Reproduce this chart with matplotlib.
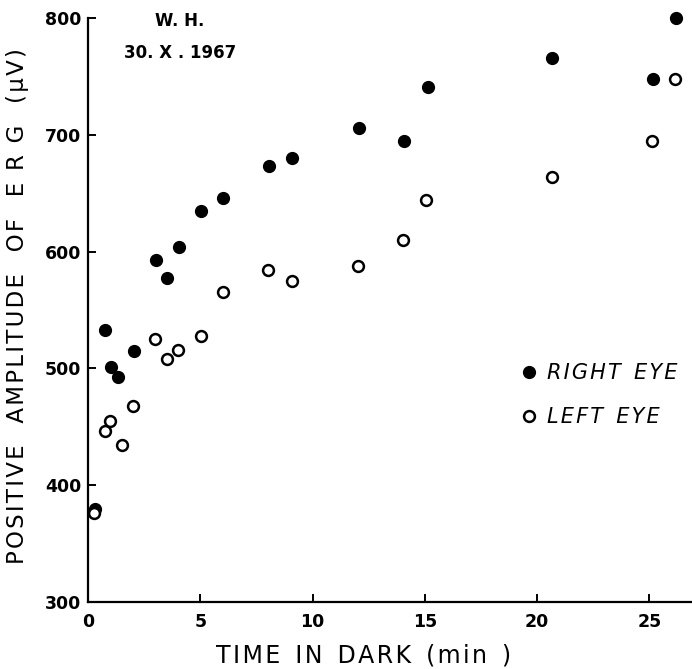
import numpy as np
import matplotlib.pyplot as plt

# right eye (filled) and left eye (open) - amplitude in microvolts vs minutes in dark
right_t = [0.31, 0.76, 1.01, 1.35, 2.03, 3.03, 3.53, 4.05, 5.03, 6.03, 8.06, 9.07, 12.08, 14.09, 15.16, 20.65, 25.17, 26.18]
right_amp = [380, 533, 501, 493, 515, 593, 577, 604, 635, 646, 673, 680, 706, 695, 741, 766, 748, 800]

left_t = [0.27, 0.77, 0.98, 1.5, 2.0, 3.0, 3.5, 4.02, 5.02, 6.03, 8.03, 9.07, 12.04, 14.05, 15.06, 20.65, 25.13, 26.15]
left_amp = [376, 446, 455, 434, 468, 525, 508, 516, 528, 565, 584, 575, 588, 610, 644, 664, 695, 748]

xticks = [0, 5, 10, 15, 20, 25]
yticks = [300, 400, 500, 600, 700, 800]


def spaced(words, gap='  '):
    # old typewriter lettering: a hair space between letters of every word
    return gap.join('\u200a'.join(w) for w in words)


fig = plt.figure(figsize=(6.92, 6.69), dpi=100)
ax = fig.add_axes([88 / 692, 1 - 602 / 669, 1 - 88 / 692, (602 - 18) / 669])

ax.plot(right_t, right_amp, 'o', color='black', ms=8.5, label=spaced(['RIGHT', 'EYE']), clip_on=False)
ax.plot(left_t, left_amp, 'o', mfc='white', mec='black', mew=1.8, ms=7.8, label=spaced(['LEFT', 'EYE']), clip_on=False)

ax.set_xlim(0, 26.9)
ax.set_ylim(300, 800)
ax.set_xticks(xticks)
ax.set_yticks(yticks)
ax.spines['top'].set_visible(False)
ax.spines['right'].set_visible(False)
for s in ['left', 'bottom']:
    ax.spines[s].set_linewidth(1.6)
ax.tick_params(direction='in', length=6, width=1.4, labelsize=12.5, pad=5)
ax.tick_params(axis='x', pad=8)
for lab in ax.get_xticklabels() + ax.get_yticklabels():
    lab.set_fontweight('bold')

ax.set_xlabel(spaced(['TIME', 'IN', 'DARK', '(min', ')']), fontsize=17, va='center')
ax.xaxis.set_label_coords((364 - 88) / 604, (602 - 656) / 584)
ax.set_ylabel(spaced(['POSITIVE', 'AMPLITUDE', 'OF', 'E R G', '(\u03bcV)'], gap='   '), fontsize=16.5, va='center')
ax.yaxis.set_label_coords((18 - 88) / 604, (602 - 306) / 584)

ax.text((180 - 88) / 604, 0.995, 'W. H.', transform=ax.transAxes, ha='center', va='center', fontsize=12, fontweight='bold')
ax.text((180 - 88) / 604, 0.94, '30. X . 1967', transform=ax.transAxes, ha='center', va='center', fontsize=12, fontweight='bold')

leg = ax.legend(loc='center left', bbox_to_anchor=((500 - 88) / 604, (602 - 395) / 584), frameon=False,
                handletextpad=0.35, labelspacing=1.15, prop={'size': 15, 'style': 'italic'}, handlelength=1.0)

fig.savefig('out.png', dpi=100)
